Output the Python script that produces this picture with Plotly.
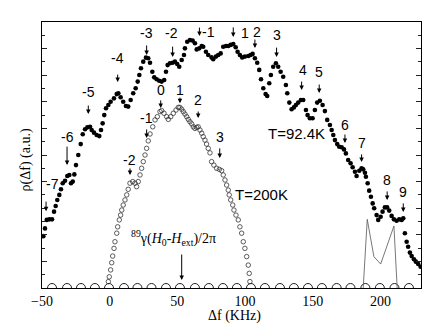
import plotly.graph_objects as go

# T = 92.4 K, filled dots
f_92 = [-49.0, -47.8, -46.5, -44.6, -42.6, -41.1, -39.9, -38.7, -37.2, -36.0,
        -34.7, -33.0, -31.3, -29.8, -28.6, -27.3, -26.1, -24.9, -23.2, -21.4,
        -19.9, -18.2, -16.5, -14.5, -13.3, -11.6, -9.6, -7.7, -6.4, -5.2,
        -4.0, -2.7, -1.0, 0.7, 3.2, 5.2, 6.4, 8.1, 10.0, 12.0,
        13.7, 15.5, 17.4, 19.2, 20.7, 21.9, 23.1, 24.8, 26.8, 28.5,
        29.8, 31.5, 32.9, 34.7, 36.6, 38.4, 40.3, 41.6, 42.8, 44.5,
        46.5, 48.2, 49.9, 51.4, 53.2, 54.9, 55.6, 57.3, 59.3, 61.3,
        63.0, 64.3, 66.2, 68.0, 69.1, 71.1, 72.8, 75.3, 76.5, 78.5,
        80.2, 82.0, 83.9, 85.9, 87.6, 89.4, 91.3, 93.1, 94.5, 96.2,
        97.9, 99.9, 102.4, 104.1, 105.6, 107.3, 109.0, 110.5, 111.8, 113.5,
        115.2, 116.4, 117.9, 119.1, 120.8, 122.8, 124.5, 126.3, 128.2, 130.2,
        131.2, 132.7, 134.4, 136.1, 137.6, 139.3, 141.3, 143.0, 145.0, 146.2,
        147.9, 149.9, 151.6, 153.3, 155.3, 157.3, 159.0, 160.7, 162.7, 164.0,
        165.2, 166.4, 168.1, 169.6, 171.4, 173.1, 174.5, 176.2, 178.0, 179.5,
        181.2, 182.4, 184.4, 186.1, 187.3, 188.6, 189.3, 190.6, 191.7, 193.0,
        194.3, 195.4, 197.2, 198.4, 200.2, 201.6, 203.3, 205.0, 206.5, 208.3,
        210.0, 212.0, 213.9, 215.7, 216.9, 218.1, 219.4, 220.5, 221.8, 223.1,
        224.8, 226.2, 227.9, 229.7]
rho_92 = [1.95, 2.24, 2.56, 2.58, 2.58, 2.87, 3.08, 3.31, 3.50, 3.71,
          3.94, 4.03, 4.21, 4.25, 3.94, 4.00, 4.27, 4.62, 5.00, 5.41,
          5.78, 5.97, 6.04, 6.06, 5.94, 5.84, 5.75, 5.71, 5.94, 6.19,
          6.50, 6.76, 6.88, 7.00, 7.13, 7.29, 7.32, 7.17, 7.00, 6.84,
          6.82, 7.07, 7.32, 7.51, 7.76, 8.01, 8.26, 8.51, 8.66, 8.64,
          8.47, 8.13, 7.92, 7.85, 7.79, 7.76, 7.82, 8.13, 8.38, 8.45,
          8.47, 8.51, 8.42, 8.32, 8.57, 8.76, 9.01, 9.26, 9.32, 9.30,
          9.20, 8.97, 9.01, 9.10, 9.07, 8.88, 8.76, 8.67, 8.60, 8.70,
          8.76, 8.82, 9.07, 9.10, 9.10, 9.14, 9.17, 9.05, 8.88, 8.76,
          8.67, 8.70, 8.72, 8.76, 8.80, 8.64, 8.47, 8.20, 7.85, 7.51,
          7.29, 7.22, 7.70, 8.01, 8.32, 8.45, 8.32, 8.13, 7.94, 7.63,
          7.32, 6.97, 6.72, 6.79, 6.88, 6.97, 7.07, 7.07, 6.69, 6.50,
          6.38, 6.38, 6.69, 6.97, 7.04, 6.88, 6.65, 6.32, 6.13, 5.94,
          5.75, 5.56, 5.41, 5.31, 5.29, 5.21, 5.06, 4.81, 4.69, 4.54,
          4.37, 4.21, 4.41, 4.50, 4.46, 4.33, 4.18, 3.94, 3.66, 3.43,
          3.18, 3.00, 2.74, 2.56, 2.68, 2.87, 3.03, 3.03, 2.91, 2.71,
          2.58, 2.53, 2.58, 2.56, 2.62, 2.06, 1.74, 1.55, 1.33, 1.20,
          1.08, 0.99, 0.90, 0.80]

# T = 200 K, open circles
f_200 = [-1.0, -0.3, 0.7, 1.5, 2.2, 3.2, 3.9, 5.2, 5.9, 7.1,
         8.1, 8.9, 10.0, 11.3, 12.6, 13.7, 15.0, 17.0, 18.7, 19.9,
         21.1, 22.4, 23.6, 24.8, 26.1, 27.3, 28.5, 29.8, 31.8, 33.5,
         35.2, 37.2, 38.4, 40.1, 42.1, 43.3, 45.1, 47.0, 49.0, 50.7,
         51.9, 53.2, 54.4, 55.6, 56.9, 58.1, 59.3, 60.6, 61.8, 63.0,
         64.3, 65.4, 66.7, 68.0, 69.1, 70.4, 71.6, 72.8, 74.1, 75.3,
         77.0, 79.0, 81.0, 82.7, 83.9, 85.2, 86.4, 87.6, 88.3, 89.4,
         90.9, 91.8, 93.3, 95.0, 96.2, 97.5, 98.7, 99.9, 101.2, 102.4,
         103.1, 103.6]
rho_200 = [0.24, 0.42, 0.68, 0.95, 1.20, 1.49, 1.74, 2.06, 2.30, 2.56,
           2.74, 2.93, 3.12, 3.31, 3.50, 3.71, 3.94, 4.00, 3.94, 3.81,
           4.00, 4.25, 4.50, 4.75, 5.00, 5.25, 5.53, 5.79, 6.06, 6.32,
           6.44, 6.63, 6.67, 6.57, 6.44, 6.34, 6.44, 6.57, 6.69, 6.79,
           6.79, 6.72, 6.63, 6.54, 6.44, 6.34, 6.25, 6.17, 6.06, 6.00,
           6.04, 6.06, 5.94, 5.82, 5.69, 5.56, 5.41, 5.25, 5.08, 4.75,
           4.62, 4.50, 4.46, 4.41, 4.25, 4.06, 3.87, 3.68, 3.50, 3.31,
           3.12, 2.93, 2.74, 2.56, 2.30, 2.06, 1.74, 1.49, 1.18, 0.86,
           0.55, 0.24]

# zero-level open circles along the baseline
f_base = [-42.6, -31.5, -21.2, -10.9, -0.5, 10.6, 20.5, 30.9, 41.6, 51.9,
          63.0, 73.3, 83.7, 94.0, 104.4, 114.7, 125.8, 136.1, 146.5, 156.8,
          167.7, 177.9, 188.9, 199.6, 210.4, 221.1]
rho_base = [0.0] * len(f_base)

# thin line near 190-212 kHz
f_line = [187.3, 190.3, 195.2, 200.2, 210.0, 212.4]
rho_line = [0.0, 2.58, 1.18, 0.90, 2.33, 0.0]

x_ticks = [-50, 0, 50, 100, 150, 200]

# peak labels on the 92.4 K data
lab_92 = ["-7", "-6", "-5", "-4", "-3", "-2", "-1", "1", "2", "3", "4", "5", "6", "7", "8", "9"]
lab_92_x = [-41.9, -31.5, -16.0, 5.9, 27.3, 45.8, 73.3, 99.9, 109.0, 123.8, 142.6, 154.8, 173.8, 186.1, 205.0, 216.9]
lab_92_y = [3.91, 5.68, 7.38, 8.64, 9.58, 9.58, 9.62, 9.59, 9.64, 9.51, 8.20, 8.13, 6.13, 5.46, 4.06, 3.62]
arr_92_x = [-47.0, -31.5, -15.8, 5.9, 27.3, 46.5, 66.3, 91.3, 107.3, 123.3, 141.8, 154.8, 173.8, 186.1, 205.0, 216.9]
arr_92_tip = [2.89, 4.62, 6.54, 7.74, 8.76, 8.68, 9.47, 9.44, 9.02, 8.68, 7.44, 7.33, 5.45, 4.74, 3.31, 2.86]
arr_92_len = [11, 20, 10, 9, 11, 12, 10, 11, 10, 11, 10, 10, 10, 9, 10, 10]

# peak labels on the 200 K data
lab_200 = ["-2", "-1", "0", "1", "2", "3"]
lab_200_x = [14.5, 27.3, 37.7, 51.9, 65.4, 81.3]
lab_200_y = [4.81, 6.38, 7.44, 7.44, 7.07, 5.66]
arr_200_x = [15.0, 27.3, 37.7, 51.9, 65.4, 81.3]
arr_200_tip = [4.25, 5.64, 6.77, 6.95, 6.39, 4.89]
arr_200_len = [8, 10, 9, 7, 8, 11]

fig = go.Figure()
fig.add_trace(go.Scatter(x=f_base, y=rho_base, mode="markers", cliponaxis=True,
                         marker=dict(symbol="circle-open", size=9, color="#222",
                                     line=dict(width=1))))
fig.add_trace(go.Scatter(x=f_line, y=rho_line, mode="lines",
                         line=dict(color="#555", width=0.8)))
fig.add_trace(go.Scatter(x=f_200, y=rho_200, mode="markers",
                         marker=dict(symbol="circle-open", size=4.5, color="#333",
                                     line=dict(width=0.8))))
fig.add_trace(go.Scatter(x=f_92, y=rho_92, mode="markers",
                         marker=dict(size=4.6, color="black")))

sans = dict(family="Liberation Sans, Arial", size=14, color="black")
serif = dict(family="Liberation Serif, Times New Roman", size=14, color="black")

notes = []
for labs, lx, ly, axx, tip, ln in [(lab_92, lab_92_x, lab_92_y, arr_92_x, arr_92_tip, arr_92_len),
                                   (lab_200, lab_200_x, lab_200_y, arr_200_x, arr_200_tip, arr_200_len)]:
    for i in range(len(labs)):
        notes.append(dict(x=lx[i], y=ly[i], text=labs[i], showarrow=False, font=sans))
        notes.append(dict(x=axx[i], y=tip[i], ax=0, ay=-ln[i], text="", showarrow=True,
                          arrowhead=2, arrowsize=0.9, arrowwidth=1, arrowcolor="black"))

notes.append(dict(x=138.3, y=5.79, text="T=92.4K", showarrow=False,
                  font=dict(family="Liberation Sans, Arial", size=15, color="black")))
notes.append(dict(x=111.8, y=3.53, text="T=200K", showarrow=False,
                  font=dict(family="Liberation Sans, Arial", size=15, color="black")))
notes.append(dict(x=47.5, y=1.88, showarrow=False, font=serif,
                  text="<sup>89</sup>γ(<i>H</i><sub>0</sub>-<i>H</i><sub>ext</sub>)/2π"))
notes.append(dict(x=53.2, y=0.30, ax=0, ay=-27, text="", showarrow=True,
                  arrowhead=2, arrowsize=0.9, arrowwidth=1, arrowcolor="black"))

# axis titles
notes.append(dict(xref="paper", yref="paper", x=0.507, y=-0.105, text="Δf (KHz)",
                  xanchor="center", yanchor="middle", showarrow=False, font=serif))
notes.append(dict(xref="paper", yref="paper", x=-0.042, y=0.48, text="ρ(Δf) (a.u.)",
                  xanchor="center", yanchor="middle", textangle=-90,
                  showarrow=False, font=serif))

# page body adds an 8 px margin, so the figure is sized to fit the window
fig.update_layout(
    width=420, height=316,
    margin=dict(l=34, r=7, t=14, b=36),
    paper_bgcolor="white", plot_bgcolor="white",
    showlegend=False,
    annotations=notes,
    xaxis=dict(range=[-50, 230], tickvals=x_ticks, ticks="", showline=True,
               linecolor="black", linewidth=1.2, mirror=True, showgrid=False,
               zeroline=False, tickfont=dict(family="Liberation Serif, Times New Roman",
                                             size=14, color="black")),
    xaxis2=dict(overlaying="x", anchor="y", side="top", range=[-50, 200], dtick=25,
                tick0=0, ticks="inside", ticklen=4, tickcolor="#222",
                showticklabels=False, showgrid=False, zeroline=False,
                showline=True, linecolor="black", linewidth=1.2),
    yaxis=dict(range=[0, 10], dtick=1, ticks="inside", ticklen=5, tickcolor="#222",
               minor=dict(dtick=0.5, ticks="inside", ticklen=3, tickcolor="#222"),
               showticklabels=False, showline=True, linecolor="black", linewidth=1.2,
               mirror="ticks", showgrid=False, zeroline=False),
)

fig.write_html("out.html")
